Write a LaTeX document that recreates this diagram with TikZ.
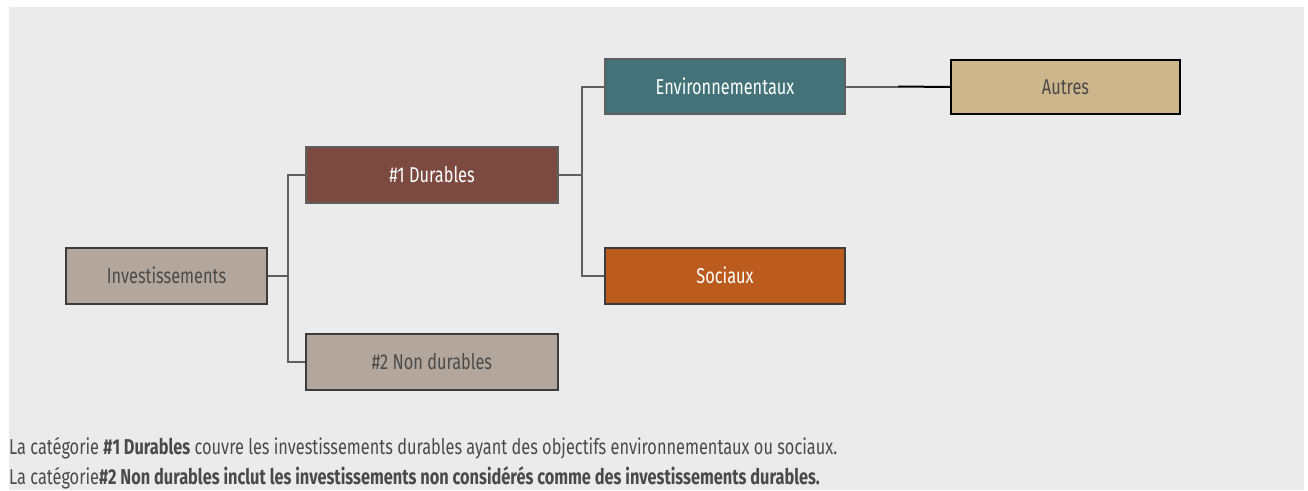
\documentclass[tikz,border=0pt]{standalone}
\usepackage{fontspec}
\setmainfont{Fira Sans}[FakeStretch=0.76]
\definecolor{bggray}{HTML}{EBEBEB}
\definecolor{taupe}{HTML}{B3A69C}
\definecolor{brick}{HTML}{7D4A41}
\definecolor{teal}{HTML}{437378}
\definecolor{rust}{HTML}{BC5B1E}
\definecolor{sand}{HTML}{CDB68B}
\definecolor{txtgray}{HTML}{4A4A4A}
\definecolor{linegray}{HTML}{5F5F5F}
\definecolor{edgedark}{HTML}{3C3C3C}
\begin{document}
\begin{tikzpicture}[x=1pt,y=-1pt,
		box/.style={draw=edgedark, line width=2pt, inner sep=0pt, minimum height=56pt, font=\fontsize{21.5}{24}\selectfont, text=txtgray},
		note/.style={anchor=base west, inner sep=0pt, text=txtgray, font=\fontsize{21.5}{24}\selectfont},
		link/.style={draw=linegray, line width=2pt}]
		\useasboundingbox (0,0) rectangle (1308,490);
		\fill[bggray] (9,7) rectangle (1304,490);
		
		\node[box, fill=taupe, minimum width=201pt] (inv) at (166.5,275.5) {Investissements};
		\node[box, fill=brick, draw=linegray, text=white, minimum width=252pt] (dur) at (432,175) {\#1 Durables};
		\node[box, fill=taupe, minimum width=252pt] (nondur) at (432,362) {\#2 Non durables};
		\node[box, fill=teal, draw=linegray, text=white, minimum width=240pt, minimum height=55pt] (env) at (725,86.5) {Environnementaux};
		\node[box, fill=rust, text=white, minimum width=240pt] (soc) at (725,275.5) {Sociaux};
		\node[box, fill=sand, draw=black, minimum width=229pt, minimum height=54pt] (aut) at (1065.5,87) {Autres};
		
		\draw[link] (inv.east) -- ++(20,0) |- (dur.west);
		\draw[link] (inv.east) -- ++(20,0) |- (nondur.west);
		\draw[link] (dur.east) -- ++(23,0) |- (env.west);
		\draw[link] (dur.east) -- ++(23,0) |- (soc.west);
		\coordinate (mid) at ([xshift=52pt]env.east);
		\draw[link] (env.east) -- (mid);
		\draw[link, draw=black] (mid) -- (aut.west);
		
		\node[note] (note1) at (9,454) {La catégorie \textbf{\#1 Durables} couvre les investissements durables ayant des objectifs environnementaux ou sociaux.};
		\node[note] (note2) at (9,484) {La catégorie\textbf{\#2 Non durables inclut les investissements non considérés comme des investissements durables.}};
	\end{tikzpicture}
\end{document}
